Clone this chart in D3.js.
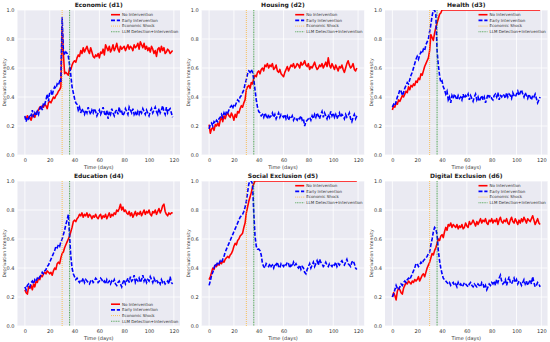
<!DOCTYPE html>
<html><head><meta charset="utf-8">
<script src="https://cdn.jsdelivr.net/npm/d3@7"></script>
<style>body{margin:0;background:#fff}svg{display:block}text{font-family:"DejaVu Sans",sans-serif}</style>
</head><body><svg id="c" width="550" height="342"></svg>
<script>
const titles = ["Economic (d1)","Housing (d2)","Health (d3)","Education (d4)","Social Exclusion (d5)","Digital Exclusion (d6)"];
const seriesNames = ["No Intervention","Early Intervention","Economic Shock","LLM Detection+Intervention"];
const shockDay = 30, interventionDay = 36;
const xTicks = [0,20,40,60,80,100,120];
const yTicks = [0,0.2,0.4,0.6,0.8,1.0];
const flat = (v,n)=>Array(n).fill(v);

const econNo = [.26,.25,.27,.25,.26,.24,.27,.28,.26,.29,.30,.31,.33,.32,.34,.33,.35,.34,.32,.36,.37,.36,.38,.40,.39,.41,.42,.44,.45,.47,.88,.70,.56,.57,.56,.55,.60,.59,.62,.64,.65,.64,.67,.69,.68,.72,.70,.74,.71,.73,.75,.72,.70,.74,.71,.68,.67,.69,.68,.70,.67,.71,.70,.73,.69,.76,.74,.72,.75,.71,.73,.76,.72,.74,.77,.73,.71,.75,.73,.74,.75,.72,.74,.76,.73,.75,.74,.72,.76,.74,.75,.77,.73,.78,.76,.74,.77,.73,.75,.72,.74,.71,.75,.73,.70,.72,.68,.73,.74,.71,.75,.72,.74,.70,.71,.73,.72,.70,.71,.72];
const econEarly = [.27,.23,.26,.25,.28,.27,.31,.26,.29,.27,.30,.28,.32,.34,.31,.36,.35,.38,.42,.37,.43,.44,.41,.45,.47,.46,.49,.48,.51,.50,.95,.72,.69,.71,.70,.68,.62,.55,.47,.43,.39,.36,.35,.31,.33,.29,.32,.30,.28,.31,.29,.33,.30,.28,.31,.29,.32,.30,.27,.29,.31,.28,.30,.33,.29,.27,.31,.25,.30,.28,.32,.29,.27,.30,.31,.28,.33,.29,.30,.27,.29,.32,.30,.28,.33,.31,.29,.32,.28,.30,.27,.30,.28,.31,.29,.32,.30,.28,.31,.29,.27,.30,.32,.29,.31,.33,.30,.28,.32,.29,.31,.34,.30,.28,.33,.29,.31,.32,.29,.26];
const housNo = [.21,.15,.18,.19,.17,.21,.20,.22,.20,.24,.26,.23,.27,.25,.28,.29,.27,.26,.29,.27,.24,.28,.26,.30,.29,.32,.34,.33,.36,.38,.45,.47,.48,.46,.50,.49,.53,.55,.54,.57,.58,.56,.59,.60,.58,.62,.61,.63,.60,.62,.61,.63,.59,.60,.62,.58,.57,.59,.56,.55,.54,.57,.59,.61,.58,.60,.62,.61,.63,.60,.61,.63,.62,.60,.64,.62,.63,.65,.62,.61,.63,.59,.61,.60,.62,.64,.61,.59,.60,.62,.61,.63,.60,.62,.64,.61,.67,.62,.60,.63,.61,.59,.62,.60,.58,.61,.60,.62,.59,.57,.60,.63,.65,.62,.60,.61,.63,.59,.58,.60];
const housEarly = [.18,.21,.22,.20,.23,.22,.24,.23,.25,.26,.28,.26,.29,.27,.30,.29,.31,.33,.34,.32,.35,.34,.36,.38,.37,.40,.41,.43,.45,.49,.52,.56,.58,.57,.59,.57,.52,.45,.38,.33,.30,.29,.27,.28,.26,.29,.27,.25,.28,.26,.27,.29,.26,.28,.25,.27,.29,.26,.28,.27,.26,.28,.25,.27,.24,.26,.25,.27,.24,.26,.25,.24,.26,.25,.27,.24,.25,.20,.23,.24,.25,.26,.24,.27,.25,.28,.26,.29,.27,.25,.28,.30,.26,.29,.27,.25,.28,.26,.30,.27,.29,.26,.28,.25,.27,.29,.26,.28,.27,.25,.28,.26,.27,.29,.25,.23,.26,.28,.25,.27];
const healNo = [.31,.34,.33,.36,.35,.38,.37,.39,.41,.40,.42,.44,.43,.47,.45,.48,.47,.49,.48,.51,.50,.53,.52,.56,.55,.58,.61,.63,.65,.67,.72,.83,.81,.79,.84,.88,.91,.94,.97,.98].concat(flat(1.0,80));
const healEarly = [.33,.35,.34,.37,.40,.42,.45,.44,.41,.43,.46,.48,.50,.49,.52,.55,.57,.60,.63,.66,.68,.66,.69,.71,.70,.73,.72,.76,.78,.80,.85,.90,.96,1.0,1.0,.97,.72,.62,.55,.50,.51,.47,.45,.42,.44,.38,.40,.36,.41,.39,.42,.40,.38,.41,.39,.40,.38,.42,.39,.41,.40,.42,.38,.41,.39,.37,.40,.42,.38,.40,.37,.39,.41,.38,.40,.36,.39,.42,.40,.41,.39,.38,.41,.42,.40,.43,.38,.41,.40,.42,.41,.39,.43,.40,.42,.41,.39,.43,.41,.40,.42,.44,.41,.43,.45,.42,.40,.43,.41,.39,.42,.40,.38,.41,.40,.42,.39,.36,.38,.40];
const educNo = [.25,.23,.22,.27,.26,.28,.25,.29,.27,.31,.30,.33,.32,.35,.34,.36,.37,.36,.38,.37,.36,.37,.35,.38,.40,.39,.43,.44,.43,.47,.50,.51,.54,.56,.58,.60,.62,.65,.68,.72,.73,.72,.74,.75,.77,.76,.78,.75,.77,.76,.78,.75,.77,.76,.74,.76,.75,.77,.75,.74,.76,.77,.74,.76,.75,.77,.74,.76,.78,.75,.77,.76,.78,.77,.80,.79,.81,.84,.80,.82,.79,.80,.78,.77,.79,.76,.78,.75,.77,.79,.76,.78,.77,.79,.76,.78,.80,.77,.79,.78,.80,.77,.76,.79,.78,.80,.77,.79,.81,.78,.80,.83,.84,.79,.77,.76,.78,.77,.78,.78];
const educEarly = [.27,.25,.28,.29,.27,.30,.31,.29,.32,.31,.33,.32,.34,.35,.37,.36,.38,.39,.41,.42,.44,.46,.48,.50,.52,.55,.54,.56,.55,.58,.60,.63,.66,.70,.73,.77,.62,.48,.40,.36,.34,.32,.33,.31,.30,.32,.31,.33,.30,.32,.31,.30,.29,.31,.32,.30,.31,.33,.32,.30,.31,.33,.32,.30,.31,.29,.32,.30,.31,.29,.31,.30,.32,.29,.28,.30,.31,.29,.27,.30,.32,.29,.31,.33,.30,.34,.31,.32,.35,.30,.32,.31,.33,.30,.32,.35,.31,.33,.30,.32,.31,.34,.32,.30,.33,.31,.32,.30,.31,.29,.32,.30,.31,.29,.30,.31,.29,.34,.30,.29];
const socNo = [.32,.34,.37,.40,.39,.42,.41,.43,.42,.44,.43,.45,.44,.46,.47,.48,.47,.49,.50,.52,.55,.57,.56,.59,.60,.62,.63,.64,.68,.71,.78,.82,.86,.89,.92,.96,.98,1.0,1.0,1.0].concat(flat(1.0,80));
const socEarly = [.28,.31,.35,.37,.40,.43,.42,.44,.43,.45,.44,.46,.48,.51,.53,.55,.57,.59,.61,.63,.65,.67,.69,.71,.73,.75,.76,.77,.79,.82,.86,.92,.98,1.0,1.0,.98,.78,.62,.55,.53,.53,.52,.49,.43,.41,.40,.43,.42,.41,.43,.41,.42,.40,.43,.42,.44,.41,.40,.43,.42,.41,.43,.42,.44,.43,.40,.42,.41,.44,.42,.43,.41,.40,.42,.39,.41,.40,.37,.36,.39,.41,.43,.40,.42,.44,.41,.43,.45,.42,.46,.44,.43,.41,.42,.44,.42,.41,.43,.42,.41,.43,.42,.44,.41,.43,.42,.44,.45,.43,.42,.44,.46,.43,.42,.41,.44,.45,.43,.40,.39];
const digNo = [.20,.23,.21,.18,.24,.26,.25,.23,.22,.26,.28,.30,.29,.31,.30,.29,.31,.30,.32,.31,.32,.34,.31,.33,.35,.36,.34,.37,.40,.42,.44,.47,.50,.49,.52,.54,.57,.60,.59,.62,.63,.61,.65,.68,.66,.70,.69,.71,.68,.70,.69,.68,.70,.67,.69,.68,.70,.67,.68,.71,.69,.68,.72,.70,.71,.73,.71,.69,.72,.70,.72,.74,.71,.73,.72,.74,.71,.70,.73,.72,.74,.71,.73,.72,.74,.70,.73,.75,.72,.71,.73,.72,.74,.71,.70,.73,.75,.72,.71,.74,.72,.70,.73,.71,.74,.72,.75,.73,.71,.74,.73,.72,.74,.76,.73,.70,.72,.74,.71,.70];
const digEarly = [.20,.22,.25,.28,.26,.25,.27,.29,.28,.30,.31,.30,.32,.33,.32,.34,.36,.38,.40,.43,.43,.41,.42,.44,.43,.45,.46,.47,.48,.50,.51,.56,.60,.65,.68,.67,.63,.52,.45,.40,.36,.33,.32,.31,.30,.29,.30,.28,.29,.30,.28,.29,.27,.30,.28,.29,.27,.28,.30,.29,.28,.27,.29,.30,.28,.27,.29,.28,.27,.29,.28,.27,.30,.29,.26,.28,.25,.27,.29,.28,.30,.29,.31,.28,.32,.30,.33,.35,.31,.29,.30,.32,.28,.31,.34,.30,.29,.31,.33,.30,.32,.29,.31,.30,.28,.30,.32,.29,.31,.28,.30,.32,.29,.34,.30,.27,.28,.30,.29,.27];

const noIntervention = [econNo,housNo,healNo,educNo,socNo,digNo];
const earlyIntervention = [econEarly,housEarly,healEarly,educEarly,socEarly,digEarly];

const svg = d3.select("#c");
const colL = [17.5, 201.7, 385], W = 162.5;
const rowT = [10, 181], H = 145;
const legendBottom = [false,false,false,true,false,false];

titles.forEach((t,i)=>{
  const r = Math.floor(i/3), c = i%3;
  const g = svg.append("g").attr("transform",`translate(${colL[c]},${rowT[r]})`);
  const n = noIntervention[i].length;
  const x = d3.scaleLinear().domain([-0.05*(n-1), (n-1)*1.05]).range([0,W]);
  const y = d3.scaleLinear().domain([0,1]).range([H,0]);
  g.append("rect").attr("width",W).attr("height",H).attr("fill","#EAEAF2");
  g.selectAll(".gx").data(xTicks).join("line").attr("x1",d=>x(d)).attr("x2",d=>x(d)).attr("y1",0).attr("y2",H).attr("stroke","#fff").attr("stroke-width",0.8);
  g.selectAll(".gy").data(yTicks).join("line").attr("y1",d=>y(d)).attr("y2",d=>y(d)).attr("x1",0).attr("x2",W).attr("stroke","#fff").attr("stroke-width",0.8);
  const ax = g.append("g").attr("transform",`translate(0,${H})`).call(d3.axisBottom(x).tickValues(xTicks).tickSize(0).tickPadding(3).tickFormat(d3.format("d")));
  const ay = g.append("g").call(d3.axisLeft(y).tickValues(yTicks).tickSize(0).tickPadding(3).tickFormat(d3.format(".1f")));
  [ax,ay].forEach(a=>{a.select(".domain").remove();a.selectAll("text").attr("font-size",5).attr("fill","#333").attr("font-family","DejaVu Sans");});
  g.append("text").attr("x",W/2).attr("y",-3).attr("text-anchor","middle").attr("font-size",6).attr("font-weight","bold").attr("fill","#222").text(t);
  g.append("text").attr("x",W/2).attr("y",H+13.5).attr("text-anchor","middle").attr("font-size",5).attr("fill","#333").text("Time (days)");
  g.append("text").attr("transform",`translate(${-12},${H/2}) rotate(-90)`).attr("text-anchor","middle").attr("font-size",4.6).attr("fill","#333").text("Deprivation Intensity");
  const cid = "clip"+i;
  g.append("clipPath").attr("id",cid).append("rect").attr("width",W).attr("height",H);
  const pg = g.append("g").attr("clip-path",`url(#${cid})`);
  const line = d3.line().x((d,j)=>x(j)).y(d=>y(d));
  pg.append("path").datum(noIntervention[i]).attr("d",line).attr("fill","none").attr("stroke","#ff0000").attr("stroke-width",1.6).attr("stroke-linejoin","round");
  pg.append("path").datum(earlyIntervention[i]).attr("d",line).attr("fill","none").attr("stroke","#0000ff").attr("stroke-width",1.6).attr("stroke-dasharray","4,1.8");
  pg.append("line").attr("x1",x(shockDay)).attr("x2",x(shockDay)).attr("y1",0).attr("y2",H).attr("stroke","orange").attr("stroke-opacity",0.7).attr("stroke-width",0.9).attr("stroke-dasharray","1,1");
  pg.append("line").attr("x1",x(interventionDay)).attr("x2",x(interventionDay)).attr("y1",0).attr("y2",H).attr("stroke","green").attr("stroke-opacity",0.6).attr("stroke-width",1.1).attr("stroke-dasharray","1,0.7");
  const ly0 = legendBottom[i] ? H-21.8 : 4.7;
  const lg = g.append("g").attr("transform",`translate(${W-71},${ly0})`);
  const styles = [
    {c:"#ff0000",da:null,w:1.6,o:1},
    {c:"#0000ff",da:"4,1.8",w:1.6,o:1},
    {c:"orange",da:"1,1",w:0.9,o:0.7},
    {c:"green",da:"1,0.7",w:1.1,o:0.6}];
  seriesNames.forEach((s,k)=>{
    const yy = k*5.7;
    lg.append("line").attr("x1",2).attr("x2",11).attr("y1",yy).attr("y2",yy).attr("stroke",styles[k].c).attr("stroke-width",styles[k].w).attr("stroke-opacity",styles[k].o).attr("stroke-dasharray",styles[k].da);
    lg.append("text").attr("x",13).attr("y",yy+1.4).attr("font-size",4).attr("fill","#333").text(s);
  });
});
</script></body></html>
